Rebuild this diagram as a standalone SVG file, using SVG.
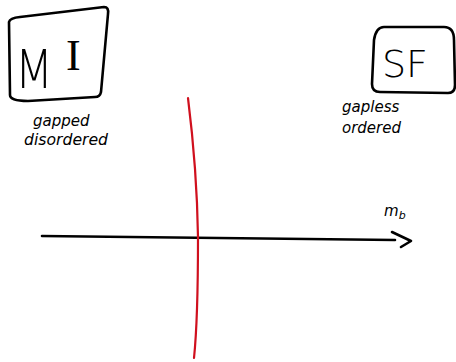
<svg xmlns="http://www.w3.org/2000/svg" width="456" height="362" viewBox="0 0 456 362">
<style>
.ink{fill:none;stroke:#000;stroke-width:2.6;stroke-linecap:round;stroke-linejoin:round}
.red{fill:none;stroke:#d0101e;stroke-width:2.2;stroke-linecap:round}
.lbl{font-family:"DejaVu Sans",sans-serif;font-size:15px;fill:#000;font-style:italic}
.big{font-family:"DejaVu Sans",sans-serif;font-weight:200;fill:#000}
</style>
<rect width="456" height="362" fill="#fff"/>
<g id="MI">
<path class="ink" d="M9,22 Q10,18 20,17 L104,7 Q109,7 108,14 L101,92 Q100,97 95,97 L28,101 Q10,101 10,95 Z"/>
<text class="big" x="15" y="88" font-size="54" textLength="38" lengthAdjust="spacingAndGlyphs">M</text>
<text x="66" y="70" font-size="44" font-family="Liberation Serif, serif" fill="#000">I</text>
<text class="lbl" x="33" y="126">gapped</text>
<text class="lbl" x="24" y="145" textLength="84" lengthAdjust="spacingAndGlyphs">disordered</text>
</g>
<g id="SF">
<path class="ink" d="M384,27 L444,27 Q454,27 454,40 L455,85 Q455,93 448,93 L380,92 Q372,92 372,84 L374,40 Q376,27 384,27 Z"/>
<text class="big" x="382" y="77" font-size="38">SF</text>
<text class="lbl" x="342" y="112">gapless</text>
<text class="lbl" x="342" y="133">ordered</text>
</g>
<g id="axis-label">
<text class="lbl" x="384" y="216" font-size="14">m<tspan font-size="11" dy="3">b</tspan></text>
</g>
<g id="connectors">
<path class="ink" d="M42,236 L395,240" stroke-width="2.2"/>
<path class="ink" d="M392,232 L411,241 L401,247"/>
<path class="red" d="M188,98 Q197,170 198,237 Q198,320 194,358"/>
</g>
</svg>
